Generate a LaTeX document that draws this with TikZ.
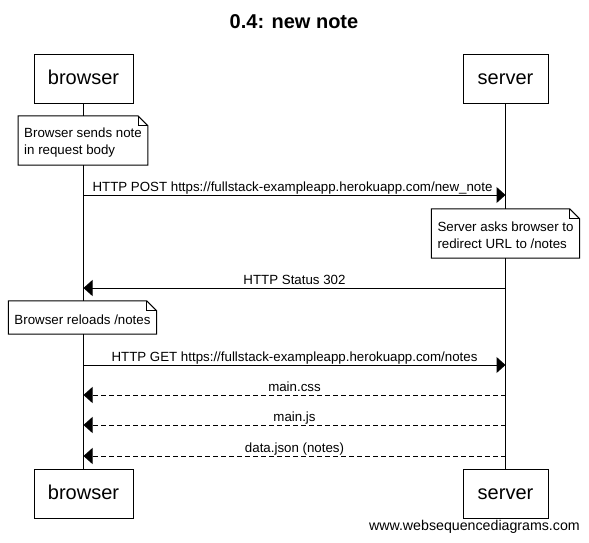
\documentclass[tikz,border=0pt]{standalone}
\usepackage{fontspec}
\setmainfont{Liberation Sans}
\usetikzlibrary{arrows.meta}
\newcommand\drawnote[1]{%
  \draw[noteline] (#1.north west) -- ([xshift=-10pt]#1.north east) -- ([yshift=-10pt]#1.north east) -- (#1.south east) -- (#1.south west) -- cycle;
  \draw[line width=0.7pt] ([xshift=-10pt]#1.north east) |- ([yshift=-10pt]#1.north east);}
\newcommand\nstrut{\rule{0pt}{13.7pt}}
\begin{document}
\begin{tikzpicture}[x=1pt,y=-1pt,
  actor/.style={draw, line width=1pt, minimum height=49pt, inner sep=0pt, text height=15.5pt, text depth=3pt, font=\fontsize{20}{24}\selectfont},
  notebox/.style={draw=none, fill=white, inner xsep=6pt, inner ysep=0pt, align=left, font=\fontsize{13.3}{17}\selectfont},
  msg/.style={line width=1pt, -{Triangle[length=9pt,width=16pt]}},
  reply/.style={msg, dash pattern=on 5pt off 3pt},
  lbl/.style={font=\fontsize{13.3}{15}\selectfont, inner sep=0.5pt, text height=10pt, text depth=2.8pt, above},
  life/.style={line width=1pt},
  noteline/.style={line width=1pt, line join=miter}
]
\useasboundingbox (0,0) rectangle (589,542);
\node[font=\bfseries\fontsize{20}{24}\selectfont] (title) at (294,22) {0.4: new note};
\node[actor, minimum width=99pt] (bt) at (83.5,78.5) {browser};
\node[actor, minimum width=85pt] (st) at (505.5,78.5) {server};
\node[actor, minimum width=99pt] (bb) at (83.5,493.5) {browser};
\node[actor, minimum width=85pt] (sb) at (505.5,493.5) {server};
\draw[life] (bt.south) -- (bb.north);
\draw[life] (st.south) -- (sb.north);

\node[notebox, minimum width=128pt, minimum height=49pt] (n1) at (83,140.5) {\nstrut Browser sends note\\in request body};
\drawnote{n1}
\node[notebox, minimum width=147pt, minimum height=49pt] (n2) at (505.5,233.5) {\nstrut Server asks browser to\\redirect URL to /notes};
\drawnote{n2}
\node[notebox, minimum width=145pt, minimum height=33pt] (n3) at (82.5,317.5) {\nstrut Browser reloads /notes};
\drawnote{n3}

\coordinate (b1) at (83.5,195); \coordinate (s1) at (505.5,195);
\coordinate (b2) at (83.5,288); \coordinate (s2) at (505.5,288);
\coordinate (b3) at (83.5,365); \coordinate (s3) at (505.5,365);
\coordinate (b4) at (83.5,395); \coordinate (s4) at (505.5,395);
\coordinate (b5) at (83.5,425); \coordinate (s5) at (505.5,425);
\coordinate (b6) at (83.5,456); \coordinate (s6) at (505.5,456);

\draw[msg] (b1) -- node[lbl, xshift=-2pt] {HTTP POST https://fullstack-exampleapp.herokuapp.com/new\_note} (s1);
\draw[msg] (s2) -- node[lbl] {HTTP Status 302} (b2);
\draw[msg] (b3) -- node[lbl] {HTTP GET https://fullstack-exampleapp.herokuapp.com/notes} (s3);
\draw[reply] (s4) -- node[lbl] {main.css} (b4);
\draw[reply] (s5) -- node[lbl] {main.js} (b5);
\draw[reply] (s6) -- node[lbl] {data.json (notes)} (b6);

\node[anchor=east, font=\fontsize{14.2}{16}\selectfont, inner sep=0pt] (wm) at (580,527) {www.websequencediagrams.com};
\end{tikzpicture}
\end{document}
